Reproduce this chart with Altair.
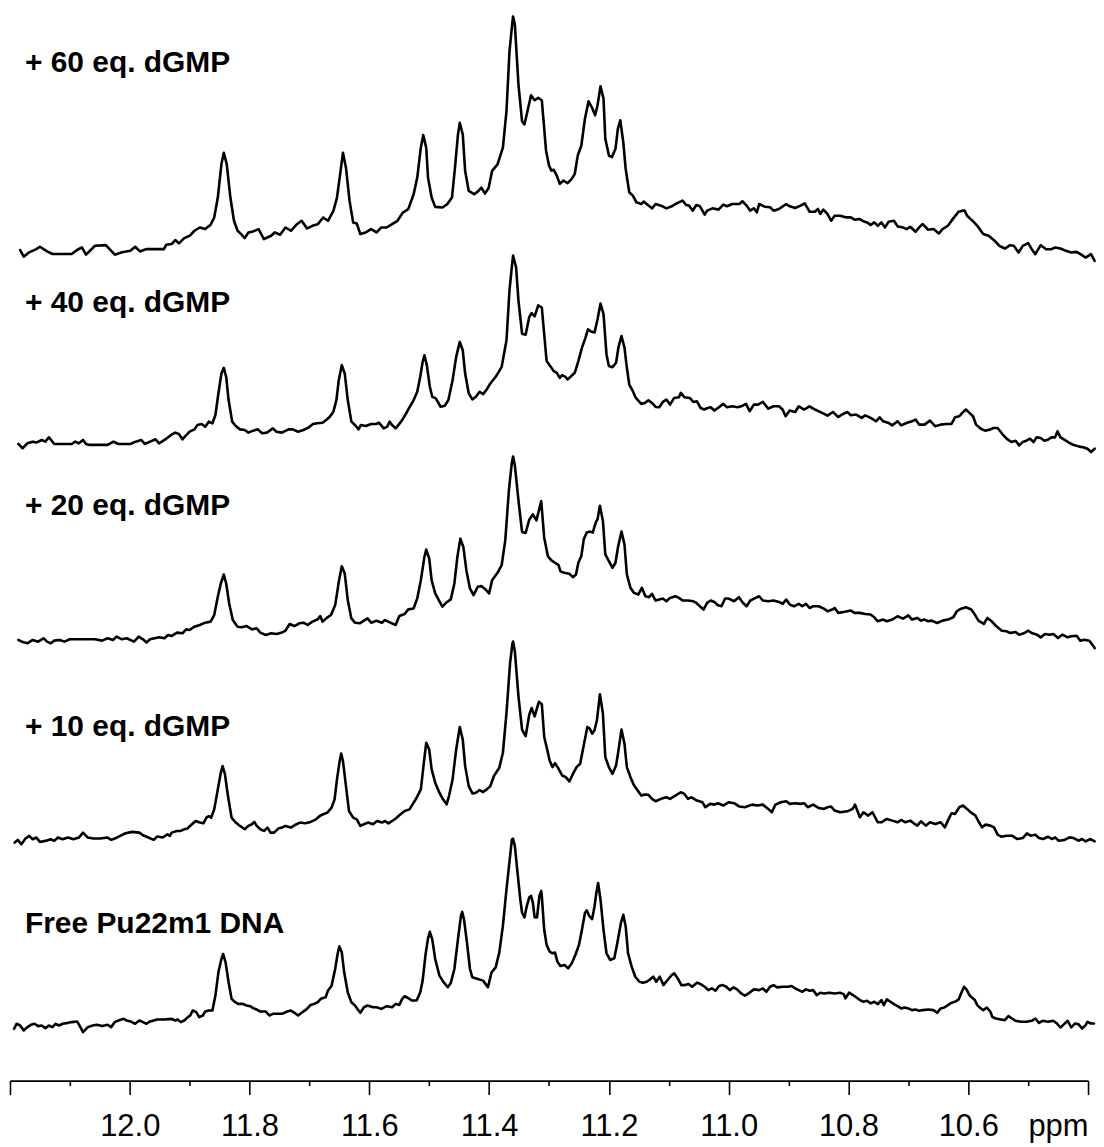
import altair as alt
import pandas as pd

# NMR imino region, chemical shift (ppm) vs intensity (arbitrary units above each trace's baseline)
trace_60 = [
(12.183,2.9),(12.177,-4.3),(12.168,0.4),(12.156,3.9),(12.150,6.4),(12.138,1.4),(12.129,-1.4),(12.097,-1.4),(12.088,2.9),(12.080,5.7),(12.073,-2.1),(12.058,7.5),(12.040,8.2),(12.025,-2.1),(12.013,0.4),(11.999,2.1),(11.991,6.4),(11.983,1.4),(11.972,3.9),(11.943,3.9),(11.939,8.6),(11.930,9.3),(11.924,13.6),(11.918,10.0),(11.909,15.7),(11.900,18.2),(11.892,23.6),(11.883,27.1),(11.874,25.4),(11.865,30.0),(11.859,37.9),(11.853,59.3),(11.847,95.0),(11.843,107.5),(11.838,95.0),(11.832,59.3),(11.826,34.3),(11.820,23.6),(11.814,20.0),(11.808,15.7),(11.802,21.8),(11.794,22.9),(11.785,25.4),(11.776,14.6),(11.764,18.2),(11.758,21.8),(11.749,19.3),(11.740,27.1),(11.731,23.6),(11.722,30.0),(11.713,34.3),(11.704,26.1),(11.695,28.9),(11.686,30.7),(11.677,37.9),(11.669,34.3),(11.660,45.0),(11.654,59.3),(11.648,87.9),(11.644,107.5),(11.639,91.4),(11.633,55.7),(11.627,32.5),(11.621,31.4),(11.615,20.0),(11.606,21.8),(11.597,25.4),(11.588,21.8),(11.580,27.1),(11.571,27.1),(11.562,30.7),(11.553,34.3),(11.544,43.2),(11.535,46.8),(11.526,62.9),(11.520,80.7),(11.514,112.9),(11.510,126.4),(11.505,112.9),(11.502,80.7),(11.496,59.3),(11.490,49.3),(11.478,48.6),(11.470,52.1),(11.462,59.3),(11.457,91.4),(11.452,127.1),(11.449,139.6),(11.444,127.1),(11.440,87.9),(11.434,66.4),(11.425,62.9),(11.419,65.7),(11.413,70.0),(11.407,63.6),(11.401,69.3),(11.395,87.9),(11.386,95.0),(11.377,112.9),(11.371,152.1),(11.366,216.4),(11.361,248.6),(11.360,253.9),(11.357,245.0),(11.351,180.7),(11.345,141.4),(11.341,137.9),(11.336,152.1),(11.330,169.3),(11.324,163.9),(11.318,166.4),
(11.312,163.9),(11.308,133.3),(11.305,109.9),(11.300,93.7),(11.296,88.3),(11.292,89.1),(11.287,82.9),(11.282,74.0),(11.276,77.6),(11.269,74.7),(11.262,79.4),(11.257,84.7),(11.252,104.5),(11.246,115.3),(11.240,144.1),(11.234,162.8),(11.228,155.6),(11.223,147.7),(11.219,158.5),(11.214,179.0),(11.209,165.7),(11.206,122.5),(11.200,104.5),(11.195,102.7),(11.189,111.7),(11.185,133.3),(11.181,142.3),(11.176,118.9),(11.172,90.1),(11.166,65.0),(11.160,61.4),(11.154,54.2),(11.146,52.4),(11.142,54.9),(11.137,52.4),(11.128,47.7),(11.122,52.4),(11.113,50.6),(11.104,47.7),(11.095,49.9),(11.089,52.4),(11.077,56.0),(11.071,51.3),(11.066,50.6),(11.060,45.2),(11.054,51.3),(11.048,49.9),(11.040,40.9),(11.036,45.2),(11.027,47.7),(11.017,46.3),(11.009,51.7),(11.003,49.9),(10.994,52.4),(10.982,52.4),(10.977,55.3),(10.970,50.6),(10.964,45.2),(10.958,47.7),(10.953,43.4),(10.949,52.4),(10.940,49.5),(10.931,48.8),(10.925,45.2),(10.916,47.0),(10.904,52.4),(10.898,49.9),(10.889,48.1),(10.880,50.6),(10.873,53.1),(10.865,44.1),(10.856,44.1),(10.851,47.0),(10.847,41.6),(10.842,46.3),(10.835,41.6),(10.829,34.4),(10.823,39.8),(10.814,39.8),(10.805,38.0),(10.796,38.0),(10.790,35.5),(10.781,36.2),(10.775,33.7),(10.769,32.6),(10.763,29.7),(10.757,32.6),(10.751,29.0),(10.745,32.6),(10.739,27.2),(10.733,33.3),(10.724,34.4),(10.718,28.3),(10.709,27.2),(10.703,25.4),(10.697,27.9),(10.688,22.5),(10.682,27.2),(10.676,30.8),(10.667,24.7),(10.658,25.4),(10.649,20.7),(10.643,25.4),(10.634,29.0),(10.625,36.9),(10.616,44.1),(10.610,45.2),(10.606,45.2),(10.602,39.8),(10.593,34.4),(10.584,28.3),(10.575,20.0),(10.566,18.2),(10.557,13.5),(10.548,7.4),(10.539,4.5),(10.530,8.1),(10.524,7.4),(10.516,0.2),(10.509,7.4),(10.500,10.3),(10.494,3.8),(10.488,-1.6),(10.479,8.1),(10.470,3.8),(10.461,3.8),(10.455,5.6),(10.446,4.5),(10.437,2.0),(10.428,0.2),(10.419,0.9),(10.410,-2.7),(10.404,-5.2),(10.395,-1.6),(10.389,-8.8),
]

trace_40 = [
(12.186,1.4),(12.179,-3.2),(12.171,2.1),(12.162,3.9),(12.156,2.9),(12.147,5.7),(12.141,3.9),(12.135,8.6),(12.126,1.4),(12.097,1.4),(12.091,3.9),(12.085,2.1),(12.078,5.7),(12.073,1.4),(12.067,0.4),(12.037,0.4),(12.027,3.9),(12.019,1.4),(11.999,1.4),(11.990,3.9),(11.981,5.7),(11.975,1.4),(11.966,3.9),(11.957,6.4),(11.951,2.1),(11.942,5.7),(11.931,11.1),(11.924,13.6),(11.918,12.1),(11.912,6.4),(11.908,9.3),(11.900,14.6),(11.892,17.1),(11.887,21.8),(11.880,22.9),(11.874,20.0),(11.868,25.4),(11.862,23.6),(11.857,32.5),(11.852,55.7),(11.847,77.1),(11.843,83.2),(11.839,73.6),(11.835,48.6),(11.829,25.4),(11.823,20.7),(11.816,17.1),(11.808,16.4),(11.802,13.6),(11.794,15.7),(11.786,17.1),(11.779,12.9),(11.771,13.6),(11.761,18.2),(11.755,14.6),(11.746,13.6),(11.735,17.1),(11.728,17.1),(11.719,14.6),(11.710,16.4),(11.701,19.3),(11.694,22.9),(11.687,23.6),(11.678,24.3),(11.672,27.1),(11.666,30.7),(11.660,36.1),(11.655,48.6),(11.651,70.0),(11.646,86.1),(11.641,77.1),(11.636,48.6),(11.630,25.4),(11.624,21.8),(11.618,17.1),(11.614,21.8),(11.606,20.7),(11.597,22.9),(11.588,22.9),(11.584,24.3),(11.576,18.2),(11.570,20.0),(11.566,25.4),(11.562,21.8),(11.556,18.2),(11.547,25.4),(11.541,31.4),(11.534,39.6),(11.526,48.6),(11.520,57.5),(11.515,73.6),(11.511,89.6),(11.508,96.8),(11.504,86.1),(11.499,62.9),(11.495,52.1),(11.489,50.4),(11.481,41.4),(11.474,42.5),(11.468,48.6),(11.461,70.0),(11.455,95.0),(11.449,111.1),(11.444,102.1),(11.440,77.1),(11.434,55.7),(11.428,49.3),(11.422,52.1),(11.416,57.5),(11.410,55.0),(11.404,60.0),(11.398,66.4),(11.389,73.6),(11.379,84.3),(11.371,112.9),(11.366,166.4),(11.361,198.6),(11.360,203.9),(11.355,191.4),(11.351,155.7),(11.345,120.0),(11.339,118.9),(11.333,137.9),(11.329,142.1),(11.324,138.6),(11.318,150.4),
(11.312,148.1),(11.308,119.3),(11.304,90.5),(11.298,85.1),(11.292,79.7),(11.287,77.9),(11.282,72.5),(11.278,75.4),(11.272,73.2),(11.269,70.7),(11.263,74.3),(11.257,77.9),(11.251,90.5),(11.245,104.9),(11.239,115.7),(11.235,124.7),(11.230,122.2),(11.224,121.1),(11.219,135.5),(11.214,152.4),(11.209,140.9),(11.204,97.7),(11.200,85.1),(11.194,84.0),(11.188,88.7),(11.184,105.6),(11.179,117.5),(11.174,104.9),(11.170,83.3),(11.166,65.3),(11.160,58.1),(11.155,50.9),(11.146,44.5),(11.140,45.5),(11.134,48.4),(11.128,45.5),(11.122,41.2),(11.116,40.9),(11.110,46.6),(11.104,49.1),(11.098,43.7),(11.091,50.9),(11.083,51.7),(11.080,56.3),(11.074,51.7),(11.065,50.9),(11.059,46.6),(11.053,47.3),(11.047,40.1),(11.041,38.4),(11.035,40.1),(11.030,40.9),(11.024,37.3),(11.018,40.1),(11.009,44.5),(11.003,40.9),(10.994,41.9),(10.985,40.9),(10.979,41.9),(10.971,44.5),(10.965,36.6),(10.958,43.7),(10.951,43.7),(10.943,46.6),(10.934,39.4),(10.925,41.9),(10.916,41.9),(10.910,38.4),(10.905,31.2),(10.898,37.3),(10.889,35.8),(10.883,41.9),(10.874,38.4),(10.865,41.9),(10.856,38.4),(10.844,34.8),(10.835,31.9),(10.826,35.8),(10.817,30.4),(10.811,33.0),(10.802,35.8),(10.796,32.2),(10.787,33.0),(10.778,29.4),(10.772,32.2),(10.763,29.4),(10.754,25.8),(10.748,30.1),(10.742,25.8),(10.733,24.0),(10.727,21.4),(10.718,25.8),(10.712,21.4),(10.703,24.0),(10.694,25.8),(10.688,27.6),(10.682,22.2),(10.673,22.2),(10.664,26.5),(10.655,20.4),(10.646,22.2),(10.637,22.9),(10.628,22.9),(10.622,30.1),(10.615,31.2),(10.610,34.8),(10.604,38.4),(10.598,34.8),(10.592,31.2),(10.587,22.2),(10.579,17.8),(10.572,15.7),(10.564,16.8),(10.558,18.6),(10.551,18.6),(10.543,12.1),(10.536,7.1),(10.528,3.5),(10.521,4.9),(10.515,-0.1),(10.509,3.5),(10.503,4.9),(10.497,7.1),(10.491,3.5),(10.486,8.5),(10.479,7.8),(10.473,4.9),(10.467,6.0),(10.461,8.5),(10.455,8.5),(10.451,15.0),(10.446,8.5),(10.437,4.9),(10.431,2.4),(10.425,0.6),(10.416,-1.2),(10.407,-2.3),(10.401,-3.7),(10.395,-7.3),(10.389,-3.7),
]

trace_20 = [
(12.186,-4.3),(12.180,-6.1),(12.171,-7.9),(12.162,-4.3),(12.153,-6.1),(12.144,-2.5),(12.138,-6.1),(12.132,-7.9),(12.126,-5.0),(12.117,-4.3),(12.109,-6.1),(12.100,-3.6),(12.088,-3.6),(12.073,-3.6),(12.058,-3.6),(12.046,-5.0),(12.037,-2.5),(12.028,-4.3),(12.022,-0.7),(12.013,-3.6),(12.005,-2.5),(11.993,-6.1),(11.985,-0.7),(11.978,-3.6),(11.972,-7.1),(11.966,-3.6),(11.951,-1.4),(11.942,-2.5),(11.936,1.1),(11.930,0.0),(11.921,3.6),(11.912,2.9),(11.906,7.1),(11.900,6.4),(11.892,10.0),(11.883,11.8),(11.874,14.3),(11.865,15.4),(11.859,22.5),(11.853,42.1),(11.848,56.4),(11.843,66.1),(11.839,56.4),(11.834,35.0),(11.828,17.1),(11.820,10.0),(11.813,9.3),(11.805,10.7),(11.796,7.1),(11.788,8.2),(11.782,3.6),(11.773,1.1),(11.764,2.9),(11.755,2.1),(11.746,3.6),(11.740,5.7),(11.733,12.9),(11.725,10.7),(11.717,13.6),(11.710,14.3),(11.703,11.8),(11.695,15.4),(11.686,17.9),(11.682,21.4),(11.678,15.4),(11.670,20.0),(11.664,22.5),(11.657,33.2),(11.651,58.2),(11.646,75.0),(11.641,67.1),(11.636,38.6),(11.630,18.9),(11.624,14.3),(11.616,13.6),(11.609,16.4),(11.603,18.9),(11.597,14.3),(11.588,16.4),(11.579,14.3),(11.574,17.1),(11.565,14.3),(11.556,11.8),(11.550,21.4),(11.541,23.6),(11.535,28.6),(11.526,29.6),(11.520,40.4),(11.514,60.0),(11.508,85.0),(11.505,92.9),(11.500,83.2),(11.496,60.0),(11.490,45.7),(11.484,38.6),(11.478,31.4),(11.472,35.7),(11.464,39.3),(11.458,56.4),(11.453,85.0),(11.448,104.6),(11.443,95.7),(11.438,70.7),(11.432,51.1),(11.426,43.9),(11.419,52.9),(11.413,53.6),(11.406,50.0),(11.400,45.7),(11.395,60.0),(11.386,67.9),(11.379,76.1),(11.373,102.9),(11.367,156.4),(11.362,186.8),(11.360,192.9),(11.357,183.2),(11.351,145.7),(11.345,111.8),(11.339,110.7),(11.333,125.0),(11.327,130.7),(11.321,124.3),(11.313,145.0),
(11.308,105.7),(11.302,85.9),(11.296,81.2),(11.290,78.7),(11.284,76.2),(11.281,69.7),(11.275,67.9),(11.266,66.8),(11.260,63.2),(11.255,66.1),(11.251,78.7),(11.246,85.9),(11.242,103.9),(11.237,111.1),(11.231,112.2),(11.227,111.1),(11.222,121.9),(11.219,125.5),(11.215,139.9),(11.210,123.7),(11.206,87.7),(11.200,80.5),(11.194,73.3),(11.189,78.7),(11.185,94.9),(11.179,112.2),(11.174,98.5),(11.170,66.1),(11.164,51.7),(11.158,46.3),(11.151,44.5),(11.145,51.7),(11.139,42.7),(11.133,41.7),(11.128,45.3),(11.122,38.1),(11.116,39.1),(11.110,40.2),(11.104,37.3),(11.098,40.9),(11.089,42.7),(11.083,40.9),(11.077,38.1),(11.068,38.1),(11.059,37.3),(11.054,35.5),(11.048,31.9),(11.042,28.4),(11.036,35.5),(11.030,38.1),(11.024,36.6),(11.018,33.0),(11.012,31.9),(11.006,40.2),(11.000,40.2),(10.991,37.3),(10.983,41.7),(10.976,35.5),(10.970,31.9),(10.964,38.1),(10.955,40.9),(10.949,42.7),(10.943,38.1),(10.934,37.3),(10.925,38.1),(10.916,36.6),(10.910,34.5),(10.904,39.1),(10.898,33.7),(10.891,31.9),(10.883,34.5),(10.877,31.9),(10.871,34.5),(10.865,30.1),(10.859,31.9),(10.850,31.9),(10.841,29.4),(10.835,26.6),(10.827,28.4),(10.823,30.1),(10.817,24.8),(10.808,25.8),(10.796,27.3),(10.790,24.8),(10.781,24.8),(10.772,23.7),(10.763,23.0),(10.757,20.1),(10.751,15.8),(10.742,17.6),(10.736,15.8),(10.727,17.6),(10.718,21.2),(10.709,18.6),(10.700,22.2),(10.694,17.6),(10.685,19.4),(10.679,16.5),(10.673,17.6),(10.667,15.8),(10.661,16.5),(10.652,14.0),(10.643,16.5),(10.634,17.6),(10.625,20.1),(10.619,26.6),(10.613,29.1),(10.604,30.9),(10.595,28.4),(10.589,23.0),(10.583,16.5),(10.574,12.9),(10.568,19.4),(10.561,15.8),(10.553,10.4),(10.544,5.7),(10.536,5.0),(10.530,3.2),(10.521,4.3),(10.515,1.4),(10.506,3.2),(10.500,5.7),(10.494,3.2),(10.485,1.4),(10.479,-1.5),(10.472,2.1),(10.464,1.4),(10.458,2.1),(10.450,-2.2),(10.443,1.4),(10.434,-1.5),(10.428,-0.4),(10.419,0.3),(10.413,-5.1),(10.406,-4.0),(10.398,-5.1),(10.392,-10.1),(10.389,-13.0),
]

trace_10 = [
(12.192,-8.6),(12.187,-5.7),(12.181,-10.4),(12.174,-4.3),(12.168,-1.4),(12.162,-5.0),(12.156,-3.2),(12.150,-7.9),(12.141,-6.8),(12.132,-5.0),(12.126,-6.8),(12.120,-3.2),(12.112,-5.0),(12.103,-3.2),(12.094,-5.0),(12.085,-3.2),(12.078,2.1),(12.070,-3.2),(12.061,-4.3),(12.049,-4.3),(12.037,-3.2),(12.031,-5.7),(12.025,-4.3),(12.016,-1.4),(12.007,1.4),(11.996,2.9),(11.984,2.1),(11.978,-0.7),(11.969,-3.2),(11.960,-5.7),(11.954,-2.1),(11.945,-3.2),(11.937,0.4),(11.933,-1.4),(11.930,2.1),(11.921,3.9),(11.915,3.9),(11.909,5.7),(11.904,6.4),(11.898,10.0),(11.890,14.6),(11.883,12.9),(11.877,12.1),(11.872,18.2),(11.868,20.0),(11.864,18.2),(11.859,27.1),(11.853,48.6),(11.848,66.4),(11.845,73.6),(11.841,64.6),(11.836,41.4),(11.830,18.2),(11.823,12.9),(11.816,9.3),(11.808,5.7),(11.802,9.3),(11.796,11.1),(11.792,13.6),(11.788,9.3),(11.782,5.7),(11.776,3.9),(11.770,7.5),(11.765,2.1),(11.759,2.1),(11.752,6.4),(11.746,7.5),(11.740,9.3),(11.731,7.5),(11.725,10.0),(11.716,12.9),(11.707,12.1),(11.698,13.6),(11.689,16.4),(11.683,20.0),(11.677,21.8),(11.670,23.6),(11.663,28.9),(11.658,37.9),(11.654,59.3),(11.650,77.1),(11.647,87.1),(11.644,78.9),(11.639,52.1),(11.634,25.4),(11.627,18.2),(11.621,16.4),(11.615,9.3),(11.609,11.1),(11.602,12.9),(11.594,11.1),(11.587,14.6),(11.579,12.9),(11.574,14.6),(11.568,12.1),(11.562,14.6),(11.556,17.1),(11.550,20.7),(11.541,25.4),(11.533,27.1),(11.526,34.3),(11.521,39.6),(11.514,48.6),(11.509,77.1),(11.505,98.6),(11.500,91.4),(11.496,70.0),(11.490,55.7),(11.483,45.0),(11.477,37.9),(11.471,32.5),(11.467,41.4),(11.461,59.3),(11.455,91.4),(11.449,115.7),(11.444,102.1),(11.440,73.6),(11.434,52.1),(11.428,44.3),(11.422,45.0),(11.416,47.9),(11.410,45.7),(11.404,48.6),(11.398,52.1),(11.392,62.9),(11.383,71.8),(11.377,87.9),(11.371,130.7),(11.365,184.3),(11.361,205.7),(11.360,207.5),(11.357,196.8),(11.351,148.6),(11.345,112.9),(11.339,105.7),(11.333,128.9),(11.329,136.1),(11.324,127.1),(11.317,142.7),
(11.312,140.1),(11.308,104.9),(11.304,94.1),(11.299,79.7),(11.294,72.5),(11.290,76.8),(11.284,70.7),(11.278,63.5),(11.272,61.7),(11.266,57.1),(11.260,65.3),(11.254,72.5),(11.248,76.1),(11.242,95.9),(11.236,115.7),(11.232,113.9),(11.228,108.5),(11.224,112.1),(11.220,122.9),(11.215,150.9),(11.210,130.1),(11.206,83.3),(11.200,72.5),(11.194,65.3),(11.188,74.3),(11.184,90.5),(11.179,112.8),(11.174,97.7),(11.170,72.5),(11.164,61.7),(11.158,52.7),(11.152,47.3),(11.146,41.9),(11.140,43.0),(11.134,42.7),(11.128,38.4),(11.122,35.8),(11.113,38.4),(11.104,40.1),(11.098,38.4),(11.089,41.9),(11.080,45.5),(11.074,43.7),(11.068,38.4),(11.062,40.1),(11.053,36.6),(11.044,34.8),(11.039,29.4),(11.031,33.0),(11.024,32.2),(11.018,33.7),(11.009,31.2),(11.000,34.8),(10.991,33.7),(10.982,30.1),(10.973,29.4),(10.961,32.2),(10.952,31.2),(10.943,32.2),(10.934,27.6),(10.928,24.0),(10.922,32.2),(10.913,34.8),(10.904,35.8),(10.898,33.0),(10.889,33.7),(10.880,33.0),(10.874,33.7),(10.868,29.4),(10.859,32.2),(10.850,28.6),(10.841,27.6),(10.835,29.4),(10.829,30.1),(10.823,25.8),(10.814,24.0),(10.802,25.0),(10.793,27.6),(10.789,32.2),(10.781,18.6),(10.775,24.0),(10.767,20.4),(10.760,24.0),(10.751,13.2),(10.745,13.2),(10.736,16.8),(10.727,15.0),(10.718,13.2),(10.712,15.7),(10.705,13.2),(10.697,15.0),(10.691,12.1),(10.685,9.6),(10.679,14.3),(10.671,9.6),(10.664,13.2),(10.655,11.4),(10.646,13.2),(10.639,7.8),(10.634,15.0),(10.628,22.9),(10.622,22.2),(10.615,29.4),(10.609,31.2),(10.602,27.6),(10.596,24.0),(10.588,20.4),(10.583,14.3),(10.577,7.8),(10.571,10.7),(10.563,9.6),(10.557,7.8),(10.551,-0.1),(10.545,-2.3),(10.536,-1.2),(10.527,-1.2),(10.518,-4.8),(10.509,-3.7),(10.502,1.3),(10.496,-1.2),(10.488,-0.1),(10.482,-3.7),(10.475,-4.8),(10.467,-2.3),(10.460,-4.8),(10.455,-3.0),(10.449,-6.6),(10.440,-5.9),(10.431,-3.0),(10.424,-3.7),(10.416,-6.6),(10.410,-4.8),(10.404,-7.3),(10.396,-4.8),(10.389,-7.3),
]

trace_free = [
(12.193,0.7),(12.189,6.1),(12.183,4.3),(12.177,-1.1),(12.171,2.5),(12.165,5.0),(12.159,6.1),(12.153,3.6),(12.147,4.3),(12.141,1.4),(12.135,4.3),(12.129,2.5),(12.124,6.1),(12.118,4.3),(12.112,6.1),(12.103,7.1),(12.097,7.9),(12.088,8.6),(12.084,4.3),(12.078,-2.9),(12.070,2.5),(12.062,4.3),(12.055,5.0),(12.046,3.6),(12.037,5.0),(12.031,2.5),(12.025,7.9),(12.019,9.6),(12.010,11.4),(12.005,9.6),(11.999,8.6),(11.991,6.1),(11.984,9.6),(11.978,7.9),(11.972,6.1),(11.966,8.6),(11.954,10.7),(11.942,10.7),(11.930,11.4),(11.924,9.6),(11.920,10.7),(11.915,7.9),(11.909,9.6),(11.903,13.2),(11.899,15.0),(11.895,20.4),(11.889,18.6),(11.884,13.2),(11.878,15.0),(11.874,19.3),(11.868,20.4),(11.862,20.4),(11.857,36.4),(11.852,61.4),(11.847,75.7),(11.844,81.1),(11.840,72.1),(11.835,50.7),(11.830,32.9),(11.824,29.3),(11.819,27.5),(11.811,27.5),(11.805,25.7),(11.799,25.0),(11.794,22.9),(11.788,21.4),(11.782,19.3),(11.773,19.3),(11.767,15.0),(11.761,16.8),(11.755,16.8),(11.746,16.8),(11.737,19.3),(11.731,20.4),(11.725,17.9),(11.719,15.0),(11.713,17.9),(11.704,22.1),(11.698,26.4),(11.692,27.5),(11.686,29.3),(11.681,32.9),(11.673,34.6),(11.669,41.8),(11.663,47.1),(11.657,65.0),(11.653,81.1),(11.650,89.3),(11.646,82.9),(11.642,61.4),(11.636,40.0),(11.630,29.3),(11.624,25.7),(11.618,20.4),(11.615,17.9),(11.609,23.9),(11.603,25.7),(11.594,23.9),(11.588,23.9),(11.580,22.1),(11.571,25.0),(11.562,23.9),(11.556,27.5),(11.550,26.4),(11.545,32.9),(11.541,35.7),(11.535,33.6),(11.529,31.1),(11.521,31.1),(11.515,40.0),(11.511,52.5),(11.506,81.1),(11.502,97.9),(11.499,105.0),(11.495,97.1),(11.490,75.7),(11.483,57.9),(11.475,50.0),(11.469,45.4),(11.464,50.0),(11.458,65.0),(11.452,97.1),(11.447,122.1),(11.445,126.4),(11.442,118.6),(11.437,93.6),(11.432,65.0),(11.428,56.1),(11.419,54.3),(11.410,52.5),(11.402,45.4),(11.396,61.4),(11.389,66.8),(11.383,82.9),(11.377,111.4),(11.371,150.7),(11.365,186.4),(11.362,204.3),(11.360,205.0),(11.357,197.1),(11.352,165.0),(11.348,140.0),(11.345,125.7),(11.341,120.4),(11.337,132.9),(11.333,141.8),(11.330,143.6),(11.327,136.4),(11.324,120.4),(11.320,120.4),(11.316,143.6),(11.313,148.9),
(11.312,143.1),(11.308,107.1),(11.304,90.9),(11.299,83.7),(11.294,81.9),(11.290,82.6),(11.286,72.9),(11.281,68.2),(11.274,69.3),(11.268,65.7),(11.262,71.1),(11.256,80.1),(11.250,90.9),(11.245,107.1),(11.240,125.1),(11.237,128.0),(11.233,122.2),(11.228,118.6),(11.224,132.3),(11.221,146.7),(11.218,157.4),(11.214,139.5),(11.209,107.1),(11.204,81.9),(11.198,74.7),(11.191,76.5),(11.186,92.7),(11.180,114.3),(11.176,123.3),(11.172,110.7),(11.168,81.9),(11.162,67.5),(11.156,56.7),(11.149,51.3),(11.143,50.3),(11.137,51.3),(11.131,53.9),(11.126,56.7),(11.121,51.3),(11.115,56.7),(11.109,47.7),(11.103,52.4),(11.095,58.5),(11.091,60.3),(11.085,54.9),(11.079,47.7),(11.073,47.7),(11.067,48.8),(11.061,45.9),(11.053,50.3),(11.047,48.8),(11.040,45.9),(11.034,42.3),(11.028,44.1),(11.022,41.6),(11.016,46.7),(11.010,47.7),(11.004,45.9),(10.998,42.3),(10.992,45.2),(10.986,43.1),(10.979,38.7),(10.973,36.2),(10.967,38.7),(10.958,43.1),(10.949,42.3),(10.943,44.1),(10.937,40.5),(10.931,45.9),(10.925,47.7),(10.919,45.2),(10.910,45.9),(10.901,45.9),(10.895,46.7),(10.889,44.1),(10.883,42.3),(10.877,40.5),(10.871,43.1),(10.865,41.6),(10.859,42.3),(10.853,36.9),(10.847,39.5),(10.841,38.7),(10.832,39.5),(10.823,38.7),(10.814,39.5),(10.808,38.0),(10.805,33.4),(10.799,39.5),(10.790,35.9),(10.781,31.6),(10.775,29.8),(10.769,30.8),(10.763,28.0),(10.757,29.8),(10.751,27.2),(10.745,31.6),(10.741,26.2),(10.736,32.3),(10.730,29.8),(10.724,27.2),(10.718,25.1),(10.712,22.6),(10.706,23.6),(10.700,22.6),(10.694,20.8),(10.688,21.5),(10.682,20.0),(10.676,20.8),(10.667,21.5),(10.658,20.8),(10.652,17.9),(10.646,22.6),(10.640,23.6),(10.634,26.2),(10.628,28.7),(10.622,29.8),(10.616,32.3),(10.612,38.7),(10.607,45.9),(10.603,43.1),(10.598,36.9),(10.594,34.4),(10.589,31.6),(10.585,26.2),(10.579,22.6),(10.575,20.8),(10.569,23.6),(10.563,19.0),(10.560,13.6),(10.554,11.8),(10.545,10.7),(10.539,10.0),(10.533,14.3),(10.527,11.8),(10.521,9.3),(10.512,8.2),(10.503,8.2),(10.494,9.3),(10.488,11.8),(10.482,7.1),(10.476,9.3),(10.467,8.2),(10.458,9.3),(10.452,6.4),(10.446,2.1),(10.440,5.7),(10.434,9.3),(10.428,2.1),(10.422,6.4),(10.416,5.7),(10.410,1.0),(10.404,4.6),(10.401,8.2),(10.395,6.4),(10.390,6.4),
]

labels = ["+ 60 eq. dGMP", "+ 40 eq. dGMP", "+ 20 eq. dGMP", "+ 10 eq. dGMP", "Free Pu22m1 DNA"]
traces = [trace_60, trace_40, trace_20, trace_10, trace_free]
stack_offsets = [890, 683, 478, 264.5, 55]       # vertical stacking of the spectra
label_ppm = [12.175, 12.175, 12.175, 12.175, 12.175]
label_level = [1084.2, 825.8, 607.9, 370.2, 158.7]
tick_values = [12.2, 12.1, 12.0, 11.9, 11.8, 11.7, 11.6, 11.5, 11.4, 11.3,
               11.2, 11.1, 11.0, 10.9, 10.8, 10.7, 10.6, 10.5, 10.4]

rows = []
for name, trace, off in zip(labels, traces, stack_offsets):
    for i, (p, v) in enumerate(trace):
        rows.append({"trace": name, "idx": i, "ppm": p, "value": off + v})
df = pd.DataFrame(rows)
lab_df = pd.DataFrame({"label": labels, "ppm": label_ppm, "value": label_level})

xscale = alt.Scale(domain=[10.4, 12.2], reverse=True, nice=False, zero=False)
yscale = alt.Scale(domain=[0, 1160], nice=False, zero=False)

minor_test = "round(datum.value * 10) % 2 != 0"
label_expr = ("datum.value > 12.15 ? '' : datum.value < 10.45 ? 'ppm' : "
              "(round(datum.value * 10) % 2 == 0 ? format(datum.value, '.1f') : '')")

xaxis = alt.Axis(
    values=tick_values,
    labelExpr=label_expr,
    title=None,
    grid=False,
    domainColor="black",
    domainWidth=1.6,
    tickColor="black",
    tickWidth=1.6,
    tickSize={"condition": {"test": minor_test, "value": 5}, "value": 14},
    labelFont="Liberation Sans",
    labelFontSize=31,
    labelColor="black",
    labelPadding=17,
    labelOverlap=False,
    labelFlush=True,
)

lines = alt.Chart(df).mark_line(
    color="black", strokeWidth=2.6, strokeJoin="round", strokeCap="round"
).encode(
    x=alt.X("ppm:Q", scale=xscale, axis=xaxis),
    y=alt.Y("value:Q", scale=yscale, axis=None),
    detail="trace:N",
    order="idx:Q",
)

texts = alt.Chart(lab_df).mark_text(
    align="left", baseline="alphabetic", font="Liberation Sans",
    fontSize=30, fontWeight="bold", color="black"
).encode(
    x=alt.X("ppm:Q", scale=xscale),
    y=alt.Y("value:Q", scale=yscale),
    text="label:N",
)

chart = alt.layer(lines, texts).properties(
    width=1081, height=1082,
    padding={"left": 9, "top": 0, "right": 8, "bottom": 0},
    background="white",
).configure_view(stroke=None)

chart.save("out.html", embed_options={"renderer": "svg", "actions": False})
